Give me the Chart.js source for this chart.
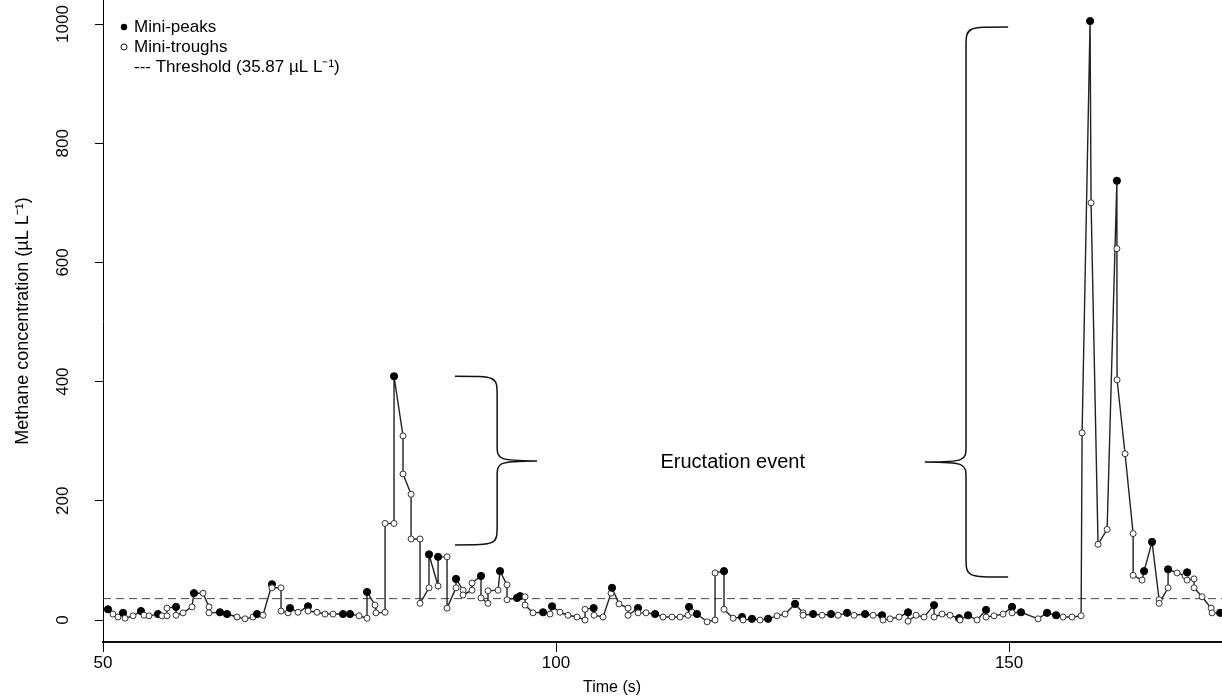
<!DOCTYPE html>
<html><head><meta charset="utf-8">
<script src="https://cdn.jsdelivr.net/npm/chart.js@4.4.0/dist/chart.umd.min.js"></script>
<style>html,body{margin:0;padding:0;background:#fff;}#wrap{width:1222px;height:698px;position:relative;}</style>
</head><body><div id="wrap"><canvas id="c"></canvas></div>
<script>
// ---- data ----
const timeS = [
50.55,51.10,51.66,52.21,52.43,53.31,54.19,54.53,55.08,56.07,
56.51,57.06,57.06,58.06,58.06,58.83,59.82,60.04,61.04,61.70,
61.70,62.91,63.69,64.79,65.67,66.56,67.00,67.66,68.65,68.65,
69.65,69.65,70.42,70.64,71.52,72.63,72.63,73.62,74.50,75.39,
76.49,77.26,78.26,79.14,79.14,80.02,80.13,81.13,81.13,82.12,
82.12,83.11,83.11,84.00,84.00,84.99,84.99,85.98,85.98,86.98,
86.98,87.97,87.97,88.96,88.96,89.74,89.74,90.73,90.73,91.72,
91.72,92.49,92.49,93.60,93.82,94.59,94.59,95.70,96.03,96.58,
96.58,97.46,98.57,99.34,99.56,100.44,101.32,102.32,103.20,103.20,
104.15,104.20,105.19,106.07,106.18,106.95,107.95,107.95,109.05,109.05,
109.93,110.93,111.81,112.80,113.69,114.57,114.68,115.01,115.56,116.67,
117.55,117.55,118.54,118.54,119.54,120.53,120.64,121.63,122.52,123.40,
124.39,125.28,126.38,127.26,127.26,128.37,129.36,130.35,131.13,132.12,
132.89,134.11,134.99,135.98,136.09,136.87,137.86,138.85,138.85,139.74,
140.62,141.72,141.72,142.60,143.49,144.48,144.59,145.47,146.47,147.46,
147.46,148.34,149.34,150.33,150.33,151.32,153.20,154.19,155.19,155.96,
156.95,157.95,158.06,158.94,159.05,159.82,160.82,161.90,161.90,161.92,
162.80,163.69,163.69,164.68,164.90,165.78,166.56,166.56,167.55,167.55,
168.54,169.43,169.65,169.65,170.42,170.42,171.30,172.30,172.41,173.29
];
const methane = [
18,10,5,12,3,7,15,8,7,10,
7,7,20,22,8,12,22,45,45,22,
12,13,10,5,2,5,10,8,60,54,
54,15,12,20,13,23,15,13,10,10,
10,10,7,3,47,25,12,13,162,162,
409,309,245,211,136,136,28,54,110,57,
106,106,20,54,69,50,42,50,62,74,
37,28,49,50,82,59,34,37,40,39,
25,12,13,10,23,13,8,5,0,18,
20,8,5,45,54,27,20,8,20,12,
12,10,5,5,5,8,22,13,10,-3,
0,79,82,18,3,5,0,2,0,2,
7,10,27,12,8,10,8,10,8,12,
8,10,8,8,0,2,5,13,-2,8,
5,25,5,10,8,3,0,8,0,17,
5,7,10,22,12,13,2,12,8,5,
5,7,314,1005,700,127,152,737,623,403,
279,145,75,67,82,131,34,28,54,85,
79,74,80,67,69,54,39,20,12,12
];
// 1 = mini-peak, 0 = mini-trough
const miniPeak = [
1,0,0,1,0,0,1,0,0,1,
0,0,0,1,0,0,0,1,0,0,
0,1,1,0,0,0,1,0,1,0,
0,0,0,1,0,1,0,0,0,0,
1,1,0,0,1,0,0,0,0,0,
1,0,0,0,0,0,0,0,1,0,
1,0,0,0,1,0,0,0,0,1,
0,0,0,0,1,0,0,1,1,0,
0,0,1,0,1,0,0,0,0,0,
1,0,0,0,1,0,0,0,1,0,
0,1,0,0,0,0,1,0,1,0,
0,0,1,0,0,1,0,1,0,1,
0,0,1,0,0,1,0,1,0,1,
0,1,0,1,0,0,0,1,0,0,
0,1,0,0,0,1,0,1,0,1,
0,0,0,1,0,1,0,1,1,0,
0,0,0,1,0,0,0,1,0,0,
0,0,0,0,1,1,0,0,0,1,
0,0,1,0,0,0,0,0,0,1
];
const thresholdValue = 35.87;
const xTickValues = [50, 100, 150];
const yTickValues = [0, 200, 400, 600, 800, 1000];
const xRange = [50, 173.5];
const yRange = [-36.9, 1040.3];
const xTitle = 'Time (s)';
const yTitle = 'Methane concentration (\u00b5L L\u207b\u00b9)';
const legendLabels = ['Mini-peaks', 'Mini-troughs', '--- Threshold (35.87 \u00b5L L\u207b\u00b9)'];
const annotationLabel = 'Eructation event';
const annotationPos = [119.5, 265];
// braces: end x, spine x, tip x, top y, tip y, bottom y (data units)
const braceEnds = [88.85, 149.9];
const braceSpines = [93.5, 145.25];
const braceTips = [97.9, 140.7];
const braceTops = [409, 995];
const braceMids = [267, 265];
const braceBottoms = [126, 72];

const FONT = '"Liberation Sans", Arial, Helvetica, sans-serif';

const overlay = {
  id: 'overlay',
  afterDatasetsDraw(chart) {
    const {ctx, scales: {x, y}, chartArea} = chart;
    ctx.save();
    ctx.strokeStyle = '#111';
    ctx.lineWidth = 1.5;
    for (let i = 0; i < braceEnds.length; i++) {
      const xe = x.getPixelForValue(braceEnds[i]);
      const xs = x.getPixelForValue(braceSpines[i]);
      const xt = x.getPixelForValue(braceTips[i]);
      const yt = y.getPixelForValue(braceTops[i]);
      const ym = y.getPixelForValue(braceMids[i]);
      const yb = y.getPixelForValue(braceBottoms[i]);
      const r = 20, rm = 16;
      ctx.beginPath();
      ctx.moveTo(xe, yt);
      ctx.bezierCurveTo(xs, yt, xs, yt, xs, yt + r);
      ctx.lineTo(xs, ym - rm);
      ctx.bezierCurveTo(xs, ym - 2, xs, ym, xt, ym);
      ctx.bezierCurveTo(xs, ym, xs, ym + 2, xs, ym + rm);
      ctx.lineTo(xs, yb - r);
      ctx.bezierCurveTo(xs, yb, xs, yb, xe, yb);
      ctx.stroke();
    }
    ctx.fillStyle = '#000';
    ctx.font = '20px ' + FONT;
    ctx.textAlign = 'center';
    ctx.textBaseline = 'middle';
    ctx.fillText(annotationLabel, x.getPixelForValue(annotationPos[0]), y.getPixelForValue(annotationPos[1]));

    // x-axis title (centred as in the reference)
    ctx.font = '16px ' + FONT;
    ctx.fillText(xTitle, 612, 688);

    // legend
    const lx = chartArea.left;
    ctx.font = '17px ' + FONT;
    ctx.textAlign = 'left';
    ctx.beginPath(); ctx.arc(lx + 21, 27, 3.2, 0, Math.PI * 2); ctx.fill();
    ctx.fillText(legendLabels[0], lx + 31, 27);
    ctx.beginPath(); ctx.arc(lx + 21, 47, 3, 0, Math.PI * 2); ctx.lineWidth = 1; ctx.stroke();
    ctx.fillText(legendLabels[1], lx + 31, 47);
    ctx.fillText(legendLabels[2], lx + 31, 67);
    ctx.restore();
  }
};

const points = timeS.map((t, i) => ({x: t, y: methane[i]}));
const zeroPad = (s) => { s.paddingTop = 0; s.paddingBottom = 0; s.paddingLeft = 0; s.paddingRight = 0; };

new Chart(document.getElementById('c'), {
  type: 'scatter',
  data: {
    datasets: [
      {
        label: 'Methane',
        data: points,
        showLine: true,
        borderColor: '#222',
        borderWidth: 1.4,
        pointRadius: (c) => miniPeak[c.dataIndex] ? 3.6 : 3,
        pointBackgroundColor: (c) => miniPeak[c.dataIndex] ? '#000' : '#fff',
        pointBorderColor: (c) => miniPeak[c.dataIndex] ? '#000' : '#333',
        pointBorderWidth: 1,
        order: 1
      },
      {
        label: 'Threshold',
        data: xRange.map(v => ({x: v, y: thresholdValue})),
        showLine: true,
        borderColor: '#444',
        borderWidth: 1,
        borderDash: [8, 5],
        pointRadius: 0,
        order: 2
      }
    ]
  },
  options: {
    responsive: true,
    maintainAspectRatio: false,
    animation: false,
    layout: {padding: 0, autoPadding: false},
    plugins: {legend: {display: false}, tooltip: {enabled: false}},
    scales: {
      x: {
        type: 'linear', min: xRange[0], max: xRange[1],
        afterBuildTicks: (s) => { s.ticks = xTickValues.map(v => ({value: v})); },
        afterFit: (s) => { s.height = 56; zeroPad(s); },
        grid: {display: true, drawOnChartArea: false, drawTicks: true, tickLength: 10, color: '#000', lineWidth: 1},
        border: {display: true, color: '#111', width: 2},
        ticks: {color: '#000', font: {family: FONT, size: 17}, padding: 1, autoSkip: false, maxRotation: 0,
                callback: (v) => String(v)},
        title: {display: false}
      },
      y: {
        type: 'linear', min: yRange[0], max: yRange[1],
        afterBuildTicks: (s) => { s.ticks = yTickValues.map(v => ({value: v})); },
        afterFit: (s) => { s.width = 103; zeroPad(s); },
        grid: {display: true, drawOnChartArea: false, drawTicks: true, tickLength: 8, color: '#000', lineWidth: 1},
        border: {display: true, color: '#000', width: 1},
        ticks: {color: '#000', font: {family: FONT, size: 17}, padding: 13, autoSkip: false, minRotation: 90, maxRotation: 90,
                crossAlign: 'center', callback: (v) => String(v)},
        title: {display: true, text: yTitle, color: '#000', font: {family: FONT, size: 18}, padding: {top: 12, bottom: 0}}
      }
    }
  },
  plugins: [overlay]
});
</script></body></html>
